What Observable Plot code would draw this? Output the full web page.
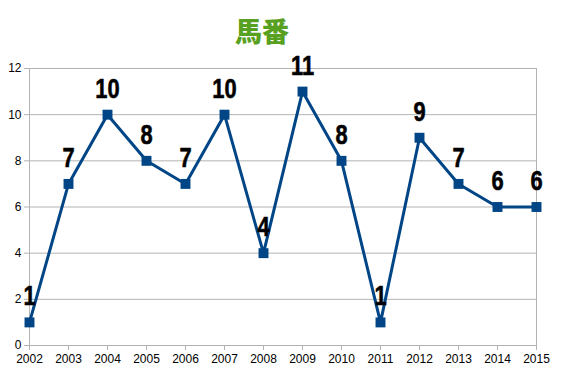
<!DOCTYPE html>
<html><head><meta charset="utf-8">
<script src="https://cdn.jsdelivr.net/npm/d3@7"></script>
<script src="https://cdn.jsdelivr.net/npm/@observablehq/plot@0.6"></script>
<style>
body{margin:0;background:#fff;}
#wrap{position:relative;width:567px;height:378px;}
#title{position:absolute;left:0;top:13px;width:524px;text-align:center;font-family:"Noto Sans CJK JP";font-weight:900;font-size:27px;color:#58a01f;line-height:36px;}
svg{overflow:visible;}
</style></head>
<body>
<div id="wrap"><div id="title">馬番</div><div id="chart"></div></div>
<script>
const years = [2002,2003,2004,2005,2006,2007,2008,2009,2010,2011,2012,2013,2014,2015];
const values = [1,7,10,8,7,10,4,11,8,1,9,7,6,6];
const yTicks = [0,2,4,6,8,10,12];
const data = years.map((y,i)=>({year:y, value:values[i]}));
const blue = "#004586";
const chart = Plot.plot({
  width:567, height:378,
  marginLeft:29, marginRight:31, marginTop:68, marginBottom:33,
  style:{fontFamily:"Liberation Sans", fontSize:"12px", color:"#000", background:"#fff"},
  x:{type:"point", domain:years, padding:0, label:null},
  y:{domain:[0,12], label:null},
  marks:[
    Plot.gridY(yTicks,{stroke:"#b3b3b3", strokeOpacity:1}),
    Plot.frame({stroke:"#b3b3b3"}),
    Plot.axisX({tickSize:5, tickPadding:4, stroke:"#b3b3b3", color:"#000", tickFormat:d=>String(d)}),
    Plot.axisY({ticks:yTicks, tickSize:5, tickPadding:3, color:"#000", stroke:"#b3b3b3"}),
    Plot.line(data,{x:"year", y:"value", stroke:blue, strokeWidth:3}),
    Plot.dot(data,{x:"year", y:"value", symbol:"square", r:5.6, fill:blue, stroke:null}),
    Plot.text(data,{x:"year", y:"value", text:d=>String(d.value), dy:-26, fontSize:28, fontWeight:"bold", fontFamily:"Liberation Sans", fill:"#000", stroke:"#000", strokeWidth:0.6})
  ]
});
document.getElementById("chart").appendChild(chart);
Array.from(chart.querySelectorAll('text')).forEach(el => {
  const g = el.closest('g[font-size]');
  if (!g || g.getAttribute('font-size') !== '28') return;
  let len = 0;
  try { len = el.getComputedTextLength(); } catch (e) { len = 0; }
  if (len > 0) {
    el.setAttribute("textLength", (len * 0.78).toFixed(2));
    el.setAttribute("lengthAdjust", "spacingAndGlyphs");
  }
});
</script>
</body></html>
